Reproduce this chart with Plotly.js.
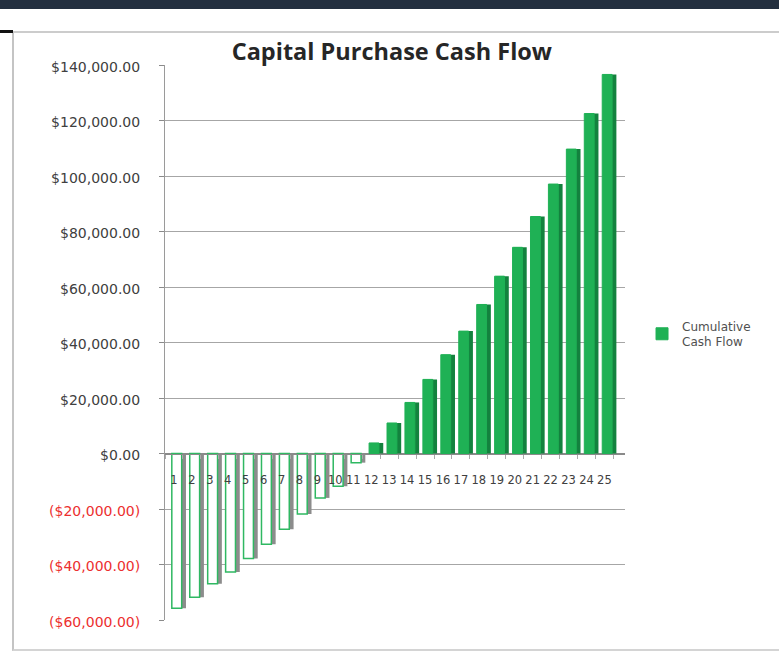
<!DOCTYPE html>
<html>
<head>
<meta charset="utf-8">
<script src="https://cdn.plot.ly/plotly-3.0.1.min.js"></script>
<style>
  html, body { margin: 0; padding: 0; background: #ffffff; width: 779px; height: 652px; overflow: hidden; }
  #topbar { position: absolute; left: 0; top: 0; width: 779px; height: 9px; background: #232f3f; }
  #frame { position: absolute; left: 12px; top: 31px; width: 767px; height: 616px;
           border-left: 2px solid #c4c4c4; border-top: 2px solid #cccccc; border-bottom: 2px solid #d4d4d4; }
  #corner { position: absolute; left: 0; top: 30px; width: 13px; height: 3px; background: #111111; }
  #chart { position: absolute; left: 0; top: 0; width: 779px; height: 652px; }
</style>
</head>
<body>
<div id="topbar"></div>
<div id="frame"></div>
<div id="corner"></div>
<div id="chart"></div>
<script>
// ---- data ----
const periods = ['1','2','3','4','5','6','7','8','9','10','11','12','13','14','15','16','17','18','19','20','21','22','23','24','25'];
const cumulativeCashFlow = [-55800, -51800, -46900, -42700, -37800, -32700, -27300, -21800, -16000, -11800, -3300,
                            3800, 11000, 18400, 26700, 35600, 44100, 53700, 63900, 74300, 85400, 97100, 109700, 122500, 136600];
const yTickValues = [-60000, -40000, -20000, 0, 20000, 40000, 60000, 80000, 100000, 120000, 140000];
const yTickLabels = ['($60,000.00)', '($40,000.00)', '($20,000.00)', '$0.00', '$20,000.00', '$40,000.00',
                     '$60,000.00', '$80,000.00', '$100,000.00', '$120,000.00', '$140,000.00'];
const seriesName = 'Cumulative<br>Cash Flow';
const chartTitle = 'Capital Purchase Cash Flow';

// ---- styling ----
const green = '#1fb155';
const greenDark = '#13823e';
const negOutline = '#2fb862';
const negSide = '#8c8c8c';

const styledTicks = yTickLabels.map((t, i) =>
  yTickValues[i] < 0 ? '<span style="color:#ec2f2f">' + t + '</span>' : t);

const positives = cumulativeCashFlow.map(v => v >= 0 ? v : null);
const negatives = cumulativeCashFlow.map(v => v < 0 ? v : null);

const sideTrace = {
  type: 'bar', x: periods, y: cumulativeCashFlow,
  offset: -0.05, width: 0.72,
  marker: { color: cumulativeCashFlow.map(v => v < 0 ? negSide : greenDark), line: { width: 0 } },
  showlegend: false, hoverinfo: 'skip'
};
const negTrace = {
  type: 'bar', x: periods, y: negatives, name: 'neg',
  offset: -0.12, width: 0.55, showlegend: false,
  marker: { color: '#ffffff', line: { color: negOutline, width: 1.5 } }
};
const posTrace = {
  type: 'bar', x: periods, y: positives, name: seriesName,
  offset: -0.12, width: 0.55,
  marker: { color: green, line: { color: green, width: 1 } }
};

const layout = {
  width: 779, height: 652,
  margin: { l: 165, r: 154, t: 65, b: 32 },
  paper_bgcolor: 'rgba(0,0,0,0)', plot_bgcolor: 'rgba(0,0,0,0)',
  barmode: 'overlay',
  font: { family: 'DejaVu Sans', color: '#404040' },
  title: {
    text: '<b>' + chartTitle + '</b>',
    font: { family: 'Open Sans', size: 23.5, color: '#262626' },
    xref: 'container', x: 0.503, xanchor: 'center',
    yref: 'container', y: 0.92, yanchor: 'middle'
  },
  xaxis: {
    type: 'category', range: [-0.5, 25.15],
    anchor: 'free', position: 0.3,
    showline: true, linecolor: '#8a8a8a', linewidth: 1,
    ticks: 'outside', tickson: 'boundaries', ticklen: 4, tickcolor: '#aaaaaa',
    tickangle: 0, ticklabelstandoff: 16,
    showgrid: false, zeroline: false,
    tickfont: { family: 'DejaVu Sans', size: 11.5, color: '#404040' }
  },
  yaxis: {
    range: [-60000, 140000],
    tickvals: yTickValues, ticktext: styledTicks,
    ticks: 'outside', ticklen: 5, tickcolor: '#8a8a8a',
    ticklabelstandoff: 16, ticklabelshift: 2,
    showline: true, linecolor: '#9a9a9a', linewidth: 1,
    showgrid: true, gridcolor: '#a6a6a6', gridwidth: 1,
    zeroline: true, zerolinecolor: '#8a8a8a', zerolinewidth: 1,
    tickfont: { family: 'DejaVu Sans', size: 14, color: '#404040' }
  },
  legend: {
    x: 1.037, xanchor: 'left', y: 0.515, yanchor: 'middle',
    font: { family: 'DejaVu Sans', size: 12, color: '#505050' },
    bgcolor: 'rgba(0,0,0,0)', itemwidth: 30, tracegroupgap: 0
  },
  showlegend: true
};

Plotly.newPlot('chart', [sideTrace, negTrace, posTrace], layout, { displayModeBar: false, staticPlot: true });
</script>
</body>
</html>
